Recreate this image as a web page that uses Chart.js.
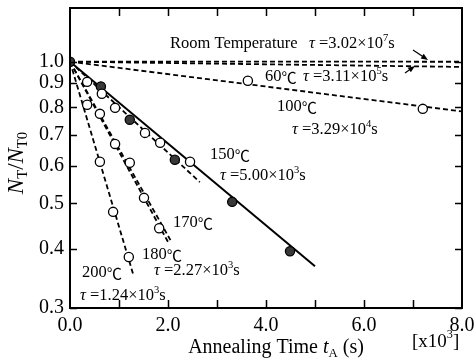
<!DOCTYPE html>
<html>
<head>
<meta charset="utf-8">
<script src="https://cdn.jsdelivr.net/npm/chart.js@4/dist/chart.umd.min.js"></script>
<style>
  html, body { margin: 0; padding: 0; background: #fff; }
  #wrap { width: 474px; height: 363px; }
</style>
</head>
<body>
<div id="wrap"><canvas id="c" width="474" height="363"></canvas></div>
<script>
// ---- time constants stated for the fitted decays (s) ----
const tauRT  = 3.02e7;
const tau60  = 3.11e5;
const tau100 = 3.29e4;
const tau150 = 5.00e3;
const tau180 = 2.27e3;
const tau200 = 1.24e3;

// ---- end times of each fitted line (s) ----
const fitEndRT  = 8000;
const fitEnd60  = 8000;
const fitEnd100 = 8000;
const fitEnd150 = 5000;
const fitEnd180 = 2000;
const fitEnd200 = 1300;

// fitted lines without a stated time constant (time, N_T/N_T0)
const fit150openT = [0, 2650];
const fit150openV = [1.0, 0.555];
const fit170T = [0, 2050];
const fit170V = [1.0, 0.418];

// ---- measured points: annealing time (s) and N_T/N_T0 ----
const filled150T = [0, 630, 1220, 2140, 3310, 4490];
const filled150V = [1.0, 0.886, 0.753, 0.619, 0.504, 0.396];

const open150T = [650, 920, 1530, 1840, 2450];
const open150V = [0.855, 0.798, 0.706, 0.673, 0.613];

const open170T = [610, 1220, 1820];
const open170V = [0.775, 0.610, 0.443];

const open180T = [350, 920, 1510];
const open180V = [0.906, 0.669, 0.514];

const open200T = [350, 610, 880, 1200];
const open200V = [0.810, 0.613, 0.480, 0.385];

const open100T = [3630, 7200];
const open100V = [0.911, 0.794];

// ---- axis ticks ----
const xTickValues = [0, 2000, 4000, 6000, 8000];
const xMinorValues = [1000, 2000, 3000, 4000, 5000, 6000, 7000];
const yTickValues = [0.3, 0.4, 0.5, 0.6, 0.7, 0.8, 0.9, 1.0];

const SERIF = '"Liberation Serif", "Times New Roman", serif';
const CJK = '"Noto Sans CJK JP", "Noto Sans CJK SC", sans-serif';

const pts = (ts, vs) => ts.map((t, i) => ({ x: t, y: vs[i] }));
const decay = (tau, tEnd) => [{ x: 0, y: 1 }, { x: tEnd, y: Math.exp(-tEnd / tau) }];

const dashStyle = { borderColor: '#000', borderWidth: 1.8, borderDash: [5, 3], pointRadius: 0, showLine: true, fill: false, order: 2 };
const solidStyle = { borderColor: '#000', borderWidth: 2, pointRadius: 0, showLine: true, fill: false, order: 2 };
const openPt = { showLine: false, pointRadius: 4.6, pointBackgroundColor: '#fff', pointBorderColor: '#000', pointBorderWidth: 1.3, order: 0 };
const filledPt = { showLine: false, pointRadius: 4.6, pointBackgroundColor: '#383838', pointBorderColor: '#000', pointBorderWidth: 1.3, order: 0 };

const datasets = [
  Object.assign({ label: 'Room Temperature fit', data: decay(tauRT, fitEndRT) }, dashStyle),
  Object.assign({ label: '60℃ fit', data: decay(tau60, fitEnd60) }, dashStyle),
  Object.assign({ label: '100℃ fit', data: decay(tau100, fitEnd100) }, dashStyle),
  Object.assign({ label: '150℃ fit', data: decay(tau150, fitEnd150) }, solidStyle),
  Object.assign({ label: '150℃ fit (open)', data: pts(fit150openT, fit150openV) }, dashStyle),
  Object.assign({ label: '170℃ fit', data: pts(fit170T, fit170V) }, dashStyle),
  Object.assign({ label: '180℃ fit', data: decay(tau180, fitEnd180) }, dashStyle),
  Object.assign({ label: '200℃ fit', data: decay(tau200, fitEnd200) }, dashStyle),
  Object.assign({ label: '100℃', data: pts(open100T, open100V) }, openPt),
  Object.assign({ label: '150℃ (open)', data: pts(open150T, open150V) }, openPt),
  Object.assign({ label: '170℃', data: pts(open170T, open170V) }, openPt),
  Object.assign({ label: '180℃', data: pts(open180T, open180V) }, openPt),
  Object.assign({ label: '200℃', data: pts(open200T, open200V) }, openPt),
  Object.assign({ label: '150℃', data: pts(filled150T, filled150V) }, filledPt)
];

// draw a run of text pieces: '' normal, 'i' italic, '^' superscript, '_' subscript, 'c' CJK symbol
function rich(ctx, x, y, runs, size, align) {
  const fontFor = (k) => {
    const small = k.includes('^') || k.includes('_');
    const s = small ? size * 0.64 : (k.includes('c') ? size * 0.92 : size);
    const fam = k.includes('c') ? CJK : SERIF;
    return (k.includes('i') ? 'italic ' : '') + s + 'px ' + fam;
  };
  const widths = runs.map(([t, k]) => { ctx.font = fontFor(k); return ctx.measureText(t).width; });
  const total = widths.reduce((a, b) => a + b, 0);
  let cx = align === 'center' ? x - total / 2 : x;
  ctx.textAlign = 'left';
  ctx.textBaseline = 'middle';
  runs.forEach(([t, k], i) => {
    ctx.font = fontFor(k);
    let dy = 0;
    if (k.includes('^')) dy = -size * 0.36;
    if (k.includes('_')) dy = size * 0.28;
    if (k.includes('c')) dy = 0.5;
    ctx.fillText(t, cx, y + dy);
    cx += widths[i];
  });
}

function arrow(ctx, x1, y1, x2, y2) {
  const a = Math.atan2(y2 - y1, x2 - x1);
  ctx.beginPath();
  ctx.moveTo(x1, y1);
  ctx.lineTo(x2 - 4 * Math.cos(a), y2 - 4 * Math.sin(a));
  ctx.lineWidth = 1.2;
  ctx.stroke();
  ctx.beginPath();
  ctx.moveTo(x2, y2);
  ctx.lineTo(x2 - 7 * Math.cos(a) + 2.8 * Math.sin(a), y2 - 7 * Math.sin(a) - 2.8 * Math.cos(a));
  ctx.lineTo(x2 - 7 * Math.cos(a) - 2.8 * Math.sin(a), y2 - 7 * Math.sin(a) + 2.8 * Math.cos(a));
  ctx.closePath();
  ctx.fill();
}

const tauText = (mant, exp) => [['τ', 'i'], [' =' + mant + '×10', ''], [exp, '^'], ['s', '']];
const degText = (n) => [[n, ''], ['℃', 'c']];

// annotation texts: [x, y, runs]
const notes = [
  [170, 44, [['Room Temperature', '']]],
  [309, 44, tauText('3.02', '7')],
  [265, 77, degText('60')],
  [303, 77, tauText('3.11', '5')],
  [277, 107, degText('100')],
  [292, 130, tauText('3.29', '4')],
  [210, 155, degText('150')],
  [220, 176, tauText('5.00', '3')],
  [173, 223, degText('170')],
  [142, 255, degText('180')],
  [154, 271, tauText('2.27', '3')],
  [82, 273, degText('200')],
  [80, 296, tauText('1.24', '3')]
];

const frame = {
  id: 'frame',
  beforeDraw(chart) {
    const ctx = chart.ctx;
    ctx.save();
    ctx.fillStyle = '#fff';
    ctx.fillRect(0, 0, chart.width, chart.height);
    ctx.restore();
  },
  afterDraw(chart) {
    const ctx = chart.ctx;
    const a = chart.chartArea;
    const xs = chart.scales.x, ys = chart.scales.y;
    ctx.save();
    ctx.strokeStyle = '#000';
    ctx.fillStyle = '#000';
    ctx.lineWidth = 2;
    ctx.strokeRect(a.left, a.top, a.right - a.left, a.bottom - a.top);

    // inward tick marks on all four sides
    ctx.lineWidth = 1.5;
    ctx.beginPath();
    yTickValues.forEach(v => {
      const p = Math.round(ys.getPixelForValue(v)) + 0.5;
      ctx.moveTo(a.left, p); ctx.lineTo(a.left + 7, p);
      ctx.moveTo(a.right, p); ctx.lineTo(a.right - 7, p);
    });
    xMinorValues.forEach(v => {
      const p = Math.round(xs.getPixelForValue(v)) + 0.5;
      ctx.moveTo(p, a.bottom); ctx.lineTo(p, a.bottom - 8);
      ctx.moveTo(p, a.top); ctx.lineTo(p, a.top + 8);
    });
    ctx.stroke();

    // labels inside the plot
    notes.forEach(([x, y, runs]) => rich(ctx, x, y, runs, 16.5, 'left'));

    arrow(ctx, 413, 50, 428, 60);
    arrow(ctx, 405, 73, 415, 66);

    // axis titles
    rich(ctx, 276, 348, [['Annealing Time ', ''], ['t', 'i'], ['A', '_'], [' (s)', '']], 20, 'center');
    rich(ctx, 412, 342, [['[x10', ''], ['3', '^'], [']', '']], 19, 'left');
    ctx.translate(17, 163);
    ctx.rotate(-Math.PI / 2);
    rich(ctx, 0, 0, [['N', 'i'], ['T', '_'], ['/', ''], ['N', 'i'], ['T0', '_']], 23, 'center');
    ctx.restore();
  }
};

new Chart(document.getElementById('c'), {
  type: 'scatter',
  data: { datasets },
  options: {
    responsive: false,
    animation: false,
    devicePixelRatio: 1,
    layout: { padding: { top: 8, right: 12, left: 0, bottom: 0 } },
    plugins: { legend: { display: false }, tooltip: { enabled: false } },
    scales: {
      x: {
        type: 'linear',
        min: 0, max: 8000,
        afterBuildTicks: (s) => { s.ticks = xTickValues.map(v => ({ value: v })); },
        afterFit: (s) => { s.height = 55; s.paddingLeft = 0; s.paddingRight = 0; },
        grid: { display: false, drawTicks: false },
        border: { display: false },
        ticks: {
          color: '#000', padding: 6,
          font: { family: SERIF, size: 20 },
          maxRotation: 0,
          callback: (v) => (v / 1000).toFixed(1)
        }
      },
      y: {
        type: 'logarithmic',
        min: 0.3, max: 1.3,
        afterBuildTicks: (s) => { s.ticks = yTickValues.map(v => ({ value: v })); },
        afterFit: (s) => { s.width = 70; s.paddingTop = 0; s.paddingBottom = 0; },
        grid: { display: false, drawTicks: false },
        border: { display: false },
        ticks: {
          color: '#000', padding: 6,
          font: { family: SERIF, size: 20 },
          callback: (v) => Number(v).toFixed(1)
        }
      }
    }
  },
  plugins: [frame]
});
</script>
</body>
</html>
